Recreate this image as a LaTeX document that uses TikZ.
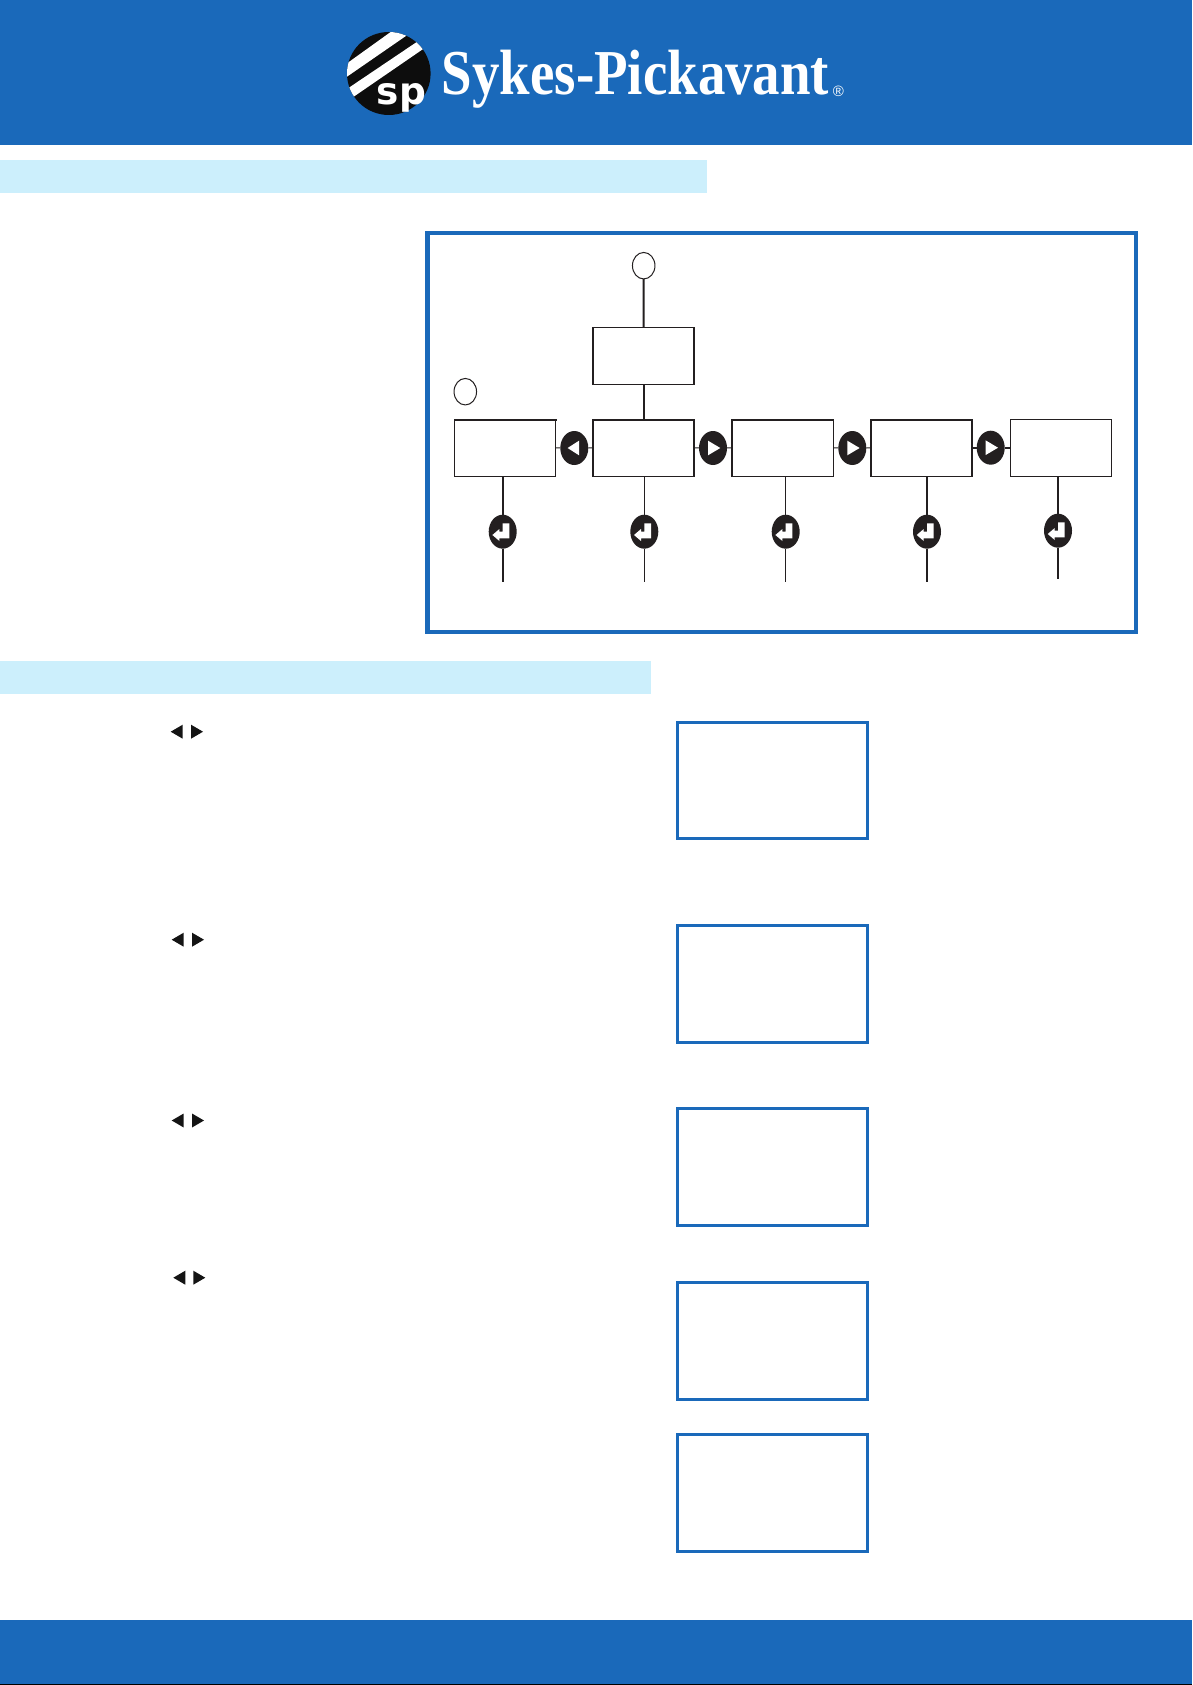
\documentclass[tikz,border=0pt]{standalone}
\usepackage{fontspec}
\setmainfont{Liberation Serif}
\newfontfamily\logosans{Liberation Sans}
\newfontfamily\logoheavy{DejaVu Sans}
\usetikzlibrary{shapes.geometric}
\definecolor{spblue}{HTML}{1A69BA}
\definecolor{spband}{HTML}{CCEFFC}
\definecolor{spdark}{HTML}{231F20}
\tikzset{
  flowbox/.style={draw=spdark,line width=1.1pt,fill=white,rectangle,inner sep=0pt,outer sep=0pt,minimum width=101pt,minimum height=56.5pt},
  bluebox/.style={draw=spblue,line width=3pt,fill=white,rectangle,inner sep=0pt,outer sep=0pt,minimum width=190pt,minimum height=117pt},
  markoval/.style={draw=spdark,line width=1pt,fill=white,ellipse,inner sep=0pt,outer sep=0pt,minimum width=22.5pt,minimum height=26.5pt},
  keyoval/.style={fill=spdark,ellipse,inner sep=0pt,outer sep=0pt,minimum width=28pt,minimum height=34pt},
  thinline/.style={draw=spdark,line width=1pt},
  thickline/.style={draw=spdark,line width=2pt},
  edgeline/.style={draw=spdark,line width=2pt,line cap=rect},
}
\newcommand{\keyleft}[1]{\fill[white,shift={(#1.center)}] (-6.7,0) -- (4.7,-7.3) -- (4.7,7.3) -- cycle;}
\newcommand{\keyright}[1]{\fill[white,shift={(#1.center)}] (7.3,0) -- (-5,-7.3) -- (-5,7.3) -- cycle;}
\newcommand{\keyenter}[1]{\fill[white,shift={(#1.center)}] (-10.3,3.3) -- (-3.3,-2.7) -- (-3.3,0) -- (0,0) -- (0,-8.3) -- (6.7,-8.3) -- (6.7,6.7) -- (-3.3,6.7) -- (-3.3,9.3) -- cycle;}
\newcommand{\smallpair}[3]{%
  \fill[black!92] (#1,#3) -- (#1+12,#3-7) -- (#1+12,#3+7) -- cycle;
  \fill[black!92] (#2+12,#3) -- (#2,#3-7) -- (#2,#3+7) -- cycle;}
\begin{document}
\begin{tikzpicture}[x=1pt,y=-1pt]
\useasboundingbox (0,0) rectangle (1192,1685);
\fill[white] (0,0) rectangle (1192,1685);
% header, bands, footer
\fill[spblue] (0,0) rectangle (1192,145);
\fill[spband] (0,160) rectangle (707,193);
\fill[spband] (0,661) rectangle (651,694);
\fill[spblue] (0,1620) rectangle (1192,1684);
\fill[black] (0,1684) rectangle (1192,1685);
% logo
\begin{scope}
  \clip (388.8,73.5) ellipse [x radius=41.8pt,y radius=41.5pt];
  \fill[black!95] (340,25) rectangle (440,125);
  \fill[white] (337.3,70.3) -- (400,25.3) -- (415,29.7) -- (338.3,82.7) -- cycle;
  \fill[white] (340,93.7) -- (426.7,35.3) -- (433.3,42) -- (345,102.7) -- cycle;
\end{scope}
\node[anchor=base west,inner sep=0pt,text=white] (logosp) at (376.5,105) {\logoheavy\bfseries\fontsize{37.5}{37.5}\selectfont sp};
\node[anchor=base west,inner sep=0pt,text=white] (wordmark) at (441.6,95) {\scalebox{.858}[1]{\bfseries\fontsize{64}{64}\selectfont Sykes-Pickavant}};
\node[inner sep=0pt,text=white] (regmark) at (838.5,91) {\logosans\fontsize{15}{15}\selectfont ®};
% frame
\node[draw=spblue,line width=4.5pt,rectangle,inner sep=0pt,minimum width=708.5pt,minimum height=398.5pt] (frame) at (781.5,432.5) {};
% marks
\node[markoval] (markA) at (643.7,265.7) {};
\node[markoval] (markB) at (465.3,391.7) {};
% boxes
\node[flowbox] (top) at (643.5,355.8) {};
\node[flowbox] (b1) at (505,447.8) {};
\node[flowbox] (b2) at (643.5,447.8) {};
\node[flowbox] (b3) at (782.8,447.8) {};
\node[flowbox] (b4) at (921.5,447.8) {};
\node[flowbox] (b5) at (1061,447.8) {};
% horizontal keys
\node[keyoval] (k12) at (574.3,448) {};
\node[keyoval] (k23) at (713,448) {};
\node[keyoval] (k34) at (852.3,448) {};
\node[keyoval] (k45) at (990.7,447.7) {};
% enter keys
\node[keyoval] (e1) at (502.7,531.7) {};
\node[keyoval] (e2) at (644.3,531.7) {};
\node[keyoval] (e3) at (785.7,531.7) {};
\node[keyoval] (e4) at (927,531.7) {};
\node[keyoval] (e5) at (1058,530.7) {};
% free ends
\coordinate (f1) at (502.7,581.7);
\coordinate (f2) at (644.3,581.7);
\coordinate (f3) at (785.7,581.7);
\coordinate (f4) at (927,581.7);
\coordinate (f5) at (1058,578.7);
% connectors
\draw[thickline] (markA) -- (top);
\draw[thickline] (top) -- (b2);
\draw[thinline] (b1) -- (k12);
\draw[thinline] (k12) -- (b2);
\draw[thinline] (b2) -- (k23);
\draw[thinline] (k23) -- (b3);
\draw[thinline] (b3) -- (k34);
\draw[thinline] (k34) -- (b4);
\draw[thickline] (b4.east |- k45) -- (k45);
\draw[thickline] (k45) -- (b5.west |- k45);
\draw[thickline] (b1.south -| e1) -- (e1);
\draw[thickline] (e1) -- (f1);
\draw[thinline] (b2.south -| e2) -- (e2);
\draw[thinline] (e2) -- (f2);
\draw[thinline] (b3.south -| e3) -- (e3);
\draw[thinline] (e3) -- (f3);
\draw[thickline] (b4.south -| e4) -- (e4);
\draw[thickline] (e4) -- (f4);
\draw[thickline] (b5.south -| e5) -- (e5);
\draw[thickline] (e5) -- (f5);
% heavier box edges
\draw[edgeline] (b1.north west) -- (b1.north east);
\draw[edgeline] (b2.south west) -- (b2.north west) -- (b2.north east);
\draw[edgeline] (b3.south west) -- (b3.north west) -- (b3.north east);
\draw[edgeline] (b4.south west) -- (b4.north west) -- (b4.north east);
\draw[edgeline] (top.south west) -- (top.north west);
% key glyphs
\keyleft{k12}
\keyright{k23}
\keyright{k34}
\keyright{k45}
\keyenter{e1}
\keyenter{e2}
\keyenter{e3}
\keyenter{e4}
\keyenter{e5}
% right-hand display boxes
\node[bluebox,minimum height=116pt] (d1) at (772.5,780.5) {};
\node[bluebox] (d2) at (772.5,984) {};
\node[bluebox] (d3) at (772.5,1167) {};
\node[bluebox] (d4) at (772.5,1341) {};
\node[bluebox] (d5) at (772.5,1493) {};
% small arrow pairs
\smallpair{170.7}{191}{731.7}
\smallpair{171.7}{192}{939.7}
\smallpair{171.7}{192}{1120.5}
\smallpair{173.3}{193.3}{1277.7}
\end{tikzpicture}
\end{document}
